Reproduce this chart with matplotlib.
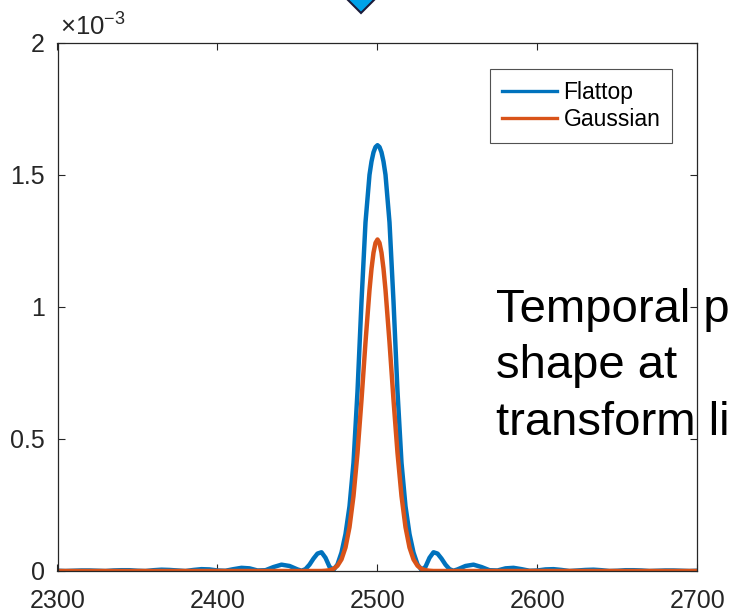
import numpy as np
import matplotlib
matplotlib.use('Agg')
import matplotlib.pyplot as plt
from matplotlib.patches import Polygon
from matplotlib.ticker import FuncFormatter

plt.rcParams['font.family'] = ['Liberation Sans', 'DejaVu Sans']
plt.rcParams['mathtext.fontset'] = 'custom'
plt.rcParams['mathtext.rm'] = 'Liberation Sans'

#Time axis samples (ns)
time = [2300, 2305, 2310, 2315, 2320, 2325, 2330, 2335, 2340, 2345,
        2350, 2355, 2360, 2365, 2370, 2375, 2380, 2385, 2390, 2395,
        2400, 2405, 2410, 2415, 2420, 2425, 2430, 2435, 2440, 2445,
        2450, 2452.5, 2455, 2457.5, 2460, 2462.5, 2465, 2467.5, 2470, 2472.5,
        2475, 2477.5, 2480, 2482.5, 2485, 2487.5, 2490, 2492.5, 2495, 2496.25,
        2497.5, 2498.75, 2500, 2501.25, 2502.5,
        2503.75, 2505, 2507.5, 2510, 2512.5, 2515, 2517.5, 2520, 2522.5, 2525,
        2527.5, 2530, 2532.5, 2535, 2537.5, 2540, 2542.5, 2545, 2547.5, 2550,
        2555, 2560, 2565, 2570, 2575, 2580, 2585, 2590, 2595, 2600,
        2605, 2610, 2615, 2620, 2625, 2630, 2635, 2640, 2645, 2650,
        2655, 2660, 2665, 2670, 2675, 2680, 2685, 2690, 2695, 2700]

#Intensity in units of 1e-3
flattop = [0.001, 0.000, 0.001, 0.002, 0.002, 0.001, 0.000, 0.002, 0.003, 0.003,
           0.001, 0.000, 0.003, 0.005, 0.004, 0.002, 0.000, 0.004, 0.007, 0.006,
           0.002, 0.001, 0.007, 0.012, 0.010, 0.002, 0.003, 0.015, 0.024, 0.019,
           0.006, 0.001, 0.007, 0.024, 0.047, 0.066, 0.071, 0.050, 0.016, 0.004,
           0.025, 0.070, 0.140, 0.245, 0.410, 0.680, 1.020, 1.320, 1.500, 1.550,
           1.585, 1.605, 1.612, 1.605, 1.585,
           1.550, 1.500, 1.320, 1.020, 0.680, 0.410, 0.245, 0.140, 0.070, 0.025,
           0.004, 0.016, 0.050, 0.071, 0.066, 0.047, 0.024, 0.007, 0.001, 0.006,
           0.019, 0.024, 0.015, 0.003, 0.002, 0.010, 0.012, 0.007, 0.001, 0.002,
           0.006, 0.007, 0.004, 0.000, 0.002, 0.004, 0.005, 0.003, 0.000, 0.001,
           0.003, 0.003, 0.002, 0.000, 0.001, 0.002, 0.002, 0.001, 0.000, 0.001]

gaussian = [0.000, 0.000, 0.000, 0.000, 0.000, 0.000, 0.000, 0.000, 0.000, 0.000,
            0.000, 0.000, 0.000, 0.000, 0.000, 0.000, 0.000, 0.000, 0.000, 0.000,
            0.000, 0.000, 0.000, 0.000, 0.000, 0.000, 0.000, 0.000, 0.000, 0.000,
            0.000, 0.000, 0.000, 0.000, 0.000, 0.000, 0.000, 0.001, 0.003, 0.008,
            0.020, 0.044, 0.089, 0.166, 0.284, 0.447, 0.648, 0.866, 1.064, 1.144,
            1.205, 1.242, 1.255, 1.242, 1.205,
            1.144, 1.064, 0.866, 0.648, 0.447, 0.284, 0.166, 0.089, 0.044, 0.020,
            0.008, 0.003, 0.001, 0.000, 0.000, 0.000, 0.000, 0.000, 0.000, 0.000,
            0.000, 0.000, 0.000, 0.000, 0.000, 0.000, 0.000, 0.000, 0.000, 0.000,
            0.000, 0.000, 0.000, 0.000, 0.000, 0.000, 0.000, 0.000, 0.000, 0.000,
            0.000, 0.000, 0.000, 0.000, 0.000, 0.000, 0.000, 0.000, 0.000, 0.000]

xticks = [2300, 2400, 2500, 2600, 2700]
yticks = [0, 0.5e-3, 1e-3, 1.5e-3, 2e-3]
note_lines = ['Temporal p', 'shape at', 'transform li']

W, H = 729, 613
axcol = '#262626'

fig = plt.figure(figsize=(W/100., H/100.), dpi=100)
ax = fig.add_axes([57.5/W, 1-571./H, 640./W, 528.3/H])
ax.patch.set_visible(False)

ax.plot(time, np.array(flattop)*1e-3, '-', color='#0072BD', lw=3.2, label='Flattop')
ax.plot(time, np.array(gaussian)*1e-3, '-', color='#D95319', lw=3.2, label='Gaussian')

ax.set_xlim(2300, 2700)
ax.set_ylim(0, 2e-3)
ax.set_xticks(xticks)
ax.set_yticks(yticks)
ax.yaxis.set_major_formatter(FuncFormatter(lambda v, p: '%g' % (v*1e3)))

#MATLAB style box with inward ticks on all sides
ax.tick_params(direction='in', top=True, right=True, length=5, width=0.8,
               color=axcol, labelcolor=axcol, labelsize=18)
ax.tick_params(axis='x', pad=13)
ax.tick_params(axis='y', pad=9)
for s in ax.spines.values():
    s.set_color(axcol)
    s.set_linewidth(0.9)

#exponent label above the y axis
ax.text(0.004, 1.015, r'$\times10^{-3}$', transform=ax.transAxes, fontsize=18.5,
        color=axcol, ha='left', va='baseline')

leg = ax.legend(loc='upper right', bbox_to_anchor=(0.960, 0.950), fontsize=16.5,
                handlelength=2.4, handletextpad=0.3, borderpad=0.5,
                labelspacing=0.2, borderaxespad=0, fancybox=False)
leg.get_frame().set_edgecolor(axcol)
leg.get_frame().set_linewidth(0.8)
for l in leg.get_lines():
    l.set_linewidth(2.4)

#annotation text sits underneath the axes frame
for i, s in enumerate(note_lines):
    fig.text(496.5/W, 1-(321.7+56.7*i)/H, s, fontsize=34, color='black',
             ha='left', va='baseline', zorder=-1)

#marker diamond cut by the top edge
dx, dy = 361., 0.
pts = [(dx-13, dy), (dx, dy+13), (dx+13, dy), (dx, dy-13)]
diamond = Polygon([(px/W, 1-py/H) for px, py in pts], closed=True,
                  transform=fig.transFigure, facecolor='#00A2E8',
                  edgecolor='#1b1b3a', linewidth=1.5)
fig.patches.append(diamond)

fig.savefig('out.png', dpi=100)
